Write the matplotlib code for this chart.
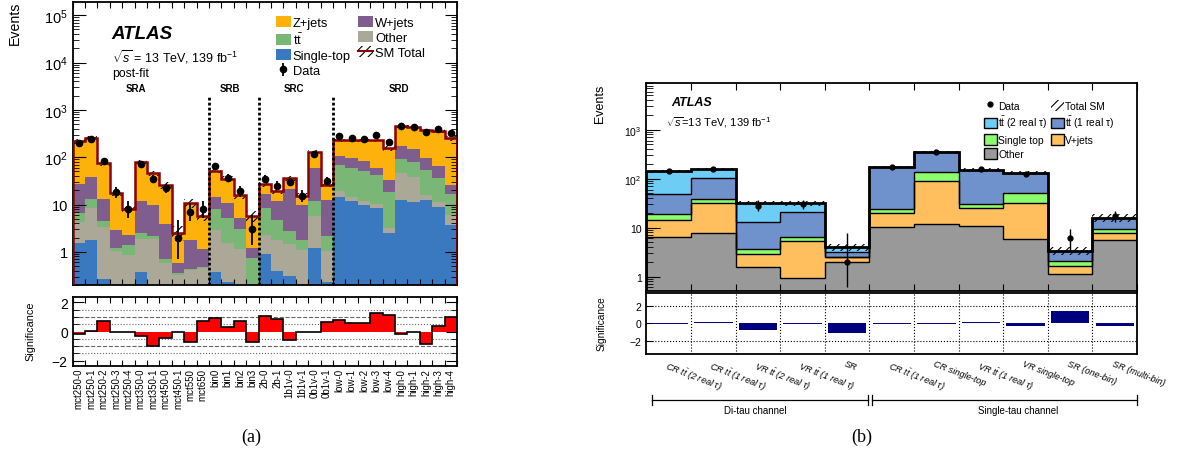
import numpy as np
import matplotlib.pyplot as plt
import matplotlib.transforms as mtransforms
from matplotlib.patches import Patch
from matplotlib.lines import Line2D
from matplotlib.ticker import LogLocator, FixedLocator, FuncFormatter, NullFormatter, MultipleLocator

plt.rcParams['font.family'] = ['Liberation Sans', 'DejaVu Sans']
plt.rcParams['mathtext.fontset'] = 'custom'
plt.rcParams['mathtext.rm'] = 'Liberation Sans'
plt.rcParams['mathtext.it'] = 'Liberation Sans:italic'
plt.rcParams['mathtext.bf'] = 'Liberation Sans:bold'
plt.rcParams['hatch.linewidth'] = 0.8
plt.rcParams['axes.linewidth'] = 1.3

# ---------------- (a) post-fit signal region yields ----------------
bins_a = ['mct250-0', 'mct250-1', 'mct250-2', 'mct250-3', 'mct250-4',
          'mct350-0', 'mct350-1', 'mct450-0', 'mct450-1', 'mct550', 'mct650',
          'bin0', 'bin1', 'bin2', 'bin3',
          '2b-0', '2b-1', '1b1v-0', '1b1v-1', '0b1v-0', '0b1v-1',
          'low-0', 'low-1', 'low-2', 'low-3', 'low-4',
          'high-0', 'high-1', 'high-2', 'high-3', 'high-4']
regions_a = ['SRA', 'SRB', 'SRC', 'SRD']
region_first_bin_a = [0, 11, 15, 21]
region_label_x_a = [5.1, 12.7, 17.85, 26.3]

single_top_a = [1.57, 1.76, 0.27, 0, 0, 0.37, 0, 0, 0, 0, 0,
                0.37, 0.23, 0, 0,
                0.89, 0.40, 0.31, 0, 1.23, 0.23,
                14.3, 11.8, 10.0, 8.5, 2.56, 12.7, 11.4, 12.3, 8.9, 3.66]
other_a = [2.73, 6.74, 3.1, 1.05, 0.88, 1.54, 1.91, 0.57, 0.32, 0.41, 0.46,
           2.5, 1.34, 1.18, 0,
           1.43, 1.42, 1.19, 1.08, 4.43, 0.8,
           4.9, 2.5, 1.8, 1.8, 0.64, 34.8, 27.0, 3.4, 2.5, 2.29]
ttbar_a = [2.35, 4.3, 1.08, 0.16, 0.5, 0.61, 0.27, 0.15, 0.03, 0.03, 0.02,
           5.08, 3.73, 1.92, 0.75,
           6.18, 2.98, 1.23, 0.74, 6.14, 1.11,
           48.4, 46.2, 39.0, 32.7, 15.3, 44.5, 41.6, 37.3, 25.8, 11.15]
wjets_a = [20.5, 25.6, 8.35, 1.75, 0.87, 9.3, 7.5, 3.25, 0.24, 1.32, 0.66,
           6.55, 5.7, 2.1, 0.46,
           8.6, 7.0, 19.1, 7.9, 48.7, 10.6,
           37.4, 36.5, 31.7, 17.5, 15.2, 78.0, 67.0, 41.0, 27.3, 9.4]
zjets_a = [191, 217, 62, 14.9, 5.7, 68, 36.9, 21.6, 1.97, 9.0, 4.6,
           37, 24.5, 10.5, 4.56,
           9.8, 7.4, 14.8, 5.5, 68.5, 13.7,
           125, 133, 147.5, 169.5, 126, 290, 293, 276, 295, 223]
sm_unc_a = [0.10, 0.10, 0.12, 0.15, 0.20, 0.10, 0.12, 0.15, 0.35, 0.20, 0.20,
            0.12, 0.12, 0.15, 0.25,
            0.12, 0.12, 0.12, 0.15, 0.10, 0.12,
            0.08, 0.08, 0.08, 0.08, 0.15, 0.08, 0.08, 0.08, 0.08, 0.10]
data_a = [204, 247, 82, 18, 8, 72, 35, 22, 2, 7, 8,
          64, 37, 19, 3,
          35, 25, 30, 15, 119, 32,
          277, 256, 247, 291, 210, 452, 436, 333, 390, 318]
signif_a = [-0.15, 0.02, 0.74, -0.02, 0.0, -0.32, -1.0, -0.46, -0.02, -0.74, 0.72,
            0.9, 0.34, 0.7, -0.74,
            1.05, 0.86, -0.57, 0.0, -0.04, 0.67,
            0.76, 0.57, 0.61, 1.26, 1.14, -0.17, 0.0, -0.86, 0.38, 1.03]

# ---------------- (b) tau channels ----------------
bins_b = [r'CR $t\bar{t}$ (2 real $\tau$)', r'CR $t\bar{t}$ (1 real $\tau$)',
          r'VR $t\bar{t}$ (2 real $\tau$)', r'VR $t\bar{t}$ (1 real $\tau$)', 'SR',
          r'CR $t\bar{t}$ (1 real $\tau$)', 'CR single-top',
          r'VR $t\bar{t}$ (1 real $\tau$)', 'VR single-top',
          'SR (one-bin)', 'SR (multi-bin)']
channels_b = ['Di-tau channel', 'Single-tau channel']
channel_span_b = [(0.12, 4.97), (5.06, 11.0)]
channel_label_x_b = [2.44, 8.34]

other_b = [6.3, 7.6, 1.55, 0.92, 2.02, 10.4, 12.1, 10.8, 5.8, 1.13, 5.55]
vjets_b = [7.9, 24.8, 1.34, 4.48, 0.45, 9.8, 77.2, 14.8, 26.6, 0.54, 2.15]
single_top_b = [4.6, 6.6, 0.76, 0.9, 0.08, 4.3, 45.7, 5.3, 17.6, 0.43, 1.6]
tt_1real_b = [29.1, 62, 9.45, 14.6, 0.67, 146.5, 215, 123, 81, 1.3, 6.7]
tt_2real_b = [94, 57, 19.3, 10.5, 0.72, 0, 0, 0, 0, 0, 0]
sm_unc_b = [0.08, 0.06, 0.10, 0.10, 0.17, 0.05, 0.05, 0.06, 0.08, 0.18, 0.20]
data_b = [145, 158, 28, 30, 2, 175, 345, 154, 125, 6, 17]
data_lo_b = [12, 12.5, 6, 5.5, 1.4, 13, 18.5, 12.4, 11, 2.5, 4]
data_hi_b = [12, 12.5, 8, 6, 5.6, 13, 18.5, 12.4, 11, 3.5, 4.5]
signif_b = [-0.1, 0.1, -0.8, -0.1, -1.15, -0.1, -0.05, 0.15, -0.35, 1.35, -0.35]

W, H = 1182, 464
fig = plt.figure(figsize=(W / 100, H / 100), dpi=100)


def rect(l, t, r, b):
    return [l / W, 1 - b / H, (r - l) / W, (b - t) / H]


def log_label(v, pos):
    if np.isclose(v, 1):
        return '1'
    if np.isclose(v, 10):
        return '10'
    return r'$10^{%d}$' % round(np.log10(v))


ax1 = fig.add_axes(rect(72.7, 3, 457, 286))
ax1r = fig.add_axes(rect(72.7, 298.3, 457, 366.7))
ax2 = fig.add_axes(rect(646.5, 84, 1137, 291.5))
ax2r = fig.add_axes(rect(646.5, 293.5, 1137, 355))

# ---------- (a) main ----------
n1 = len(bins_a)
e1 = np.arange(n1 + 1)
c1 = e1[:-1] + 0.5
colors_a = {'st': '#3a78bf', 'oth': '#aba898', 'tt': '#7ab676', 'w': '#7f5e8d', 'z': '#fdb20b'}
stack_a = [(single_top_a, colors_a['st']), (other_a, colors_a['oth']),
           (ttbar_a, colors_a['tt']), (wjets_a, colors_a['w']), (zjets_a, colors_a['z'])]
low = np.zeros(n1)
for vals, col in stack_a:
    high = low + np.asarray(vals, float)
    ax1.stairs(high, e1, baseline=np.maximum(low, 1e-3), fill=True,
               facecolor=col, edgecolor='none', lw=0, zorder=1)
    low = high
tot_a = low
ua = np.asarray(sm_unc_a)
ax1.stairs(tot_a * (1 + ua), e1, baseline=tot_a * (1 - ua), fill=True,
           facecolor='none', edgecolor='black', hatch='////', lw=0, zorder=3)
ax1.stairs(tot_a, e1, color='#8b0000', lw=1.8, zorder=4)

d = np.asarray(data_a, float)
err_lo = d - d * (1 - 1 / (9 * d) - 1 / (3 * np.sqrt(d))) ** 3
err_hi = 1 + np.sqrt(d + 0.75)
data_h = ax1.errorbar(c1, d, yerr=[err_lo, err_hi], fmt='o', color='black',
                      ms=4.5, elinewidth=1.3, capsize=0, zorder=5)

sep = mtransforms.blended_transform_factory(ax1.transData, ax1.transAxes)
for s in region_first_bin_a[1:]:
    ax1.plot([s, s], [0, 0.667], transform=sep, color='black', lw=2.0,
             ls=(0, (1, 0.8)), zorder=6)
for x, name in zip(region_label_x_a, regions_a):
    ax1.text(x, 0.697, name, transform=sep, ha='center', va='center',
             fontsize=7, fontweight='bold')

ax1.set_yscale('log')
ax1.set_ylim(0.2, 1.9e5)
ax1.set_xlim(0, n1)
ax1.yaxis.set_major_locator(FixedLocator([1, 10, 1e2, 1e3, 1e4, 1e5]))
ax1.yaxis.set_minor_locator(LogLocator(10, subs=np.arange(2, 10), numticks=20))
ax1.yaxis.set_major_formatter(FuncFormatter(log_label))
ax1.yaxis.set_minor_formatter(NullFormatter())
ax1.set_xticks(e1)
ax1.tick_params(which='both', direction='in', top=True, right=True, labelsize=10.5,
                labelbottom=False)
ax1.tick_params(axis='y', which='major', length=9)
ax1.tick_params(axis='y', which='minor', length=4.5)
ax1.tick_params(axis='x', which='major', length=4)

ax1.text(0.1015, 0.872, 'ATLAS', transform=ax1.transAxes, fontsize=13.5,
         fontweight='bold', fontstyle='italic', va='baseline')
ax1.text(0.1015, 0.809, r'$\sqrt{s}$ = 13 TeV, 139 fb$^{-1}$', transform=ax1.transAxes,
         fontsize=9, va='center')
ax1.text(0.1015, 0.749, 'post-fit', transform=ax1.transAxes, fontsize=8.8, va='center')

sm_h = (Patch(facecolor='none', edgecolor='black', hatch='////', lw=0),
        Line2D([], [], color='#8b0000', lw=1.5))
handles_a = [Patch(facecolor=colors_a['z']), Patch(facecolor=colors_a['tt']),
             Patch(facecolor=colors_a['st']), data_h,
             Patch(facecolor=colors_a['w']), Patch(facecolor=colors_a['oth']), sm_h]
labels_a = ['Z+jets', r'$\mathrm{t}\bar{\mathrm{t}}$', 'Single-top', 'Data',
            'W+jets', 'Other', 'SM Total']
ax1.legend(handles_a, labels_a, ncol=2, loc='upper left', bbox_to_anchor=(0.529, 0.950),
           frameon=False, fontsize=9.3, handlelength=1.14, handleheight=0.9,
           handletextpad=0.15, columnspacing=0.6, labelspacing=0.18,
           borderpad=0, borderaxespad=0)

# ---------- (a) significance ----------
sa = np.asarray(signif_a)
for y, ls in [(1.5, ':'), (1.0, '--'), (0.5, ':'), (-0.5, ':'), (-1.0, '--'), (-1.5, ':')]:
    ax1r.axhline(y, color='#666666', lw=0.8, ls=ls, zorder=0)
ax1r.stairs(sa, e1, baseline=0, fill=True, color='red', zorder=2)
ax1r.stairs(sa, e1, color='black', lw=1.2, zorder=3)
ax1r.set_xlim(0, n1)
ax1r.set_ylim(-2.35, 2.35)
ax1r.set_yticks([-2, 0, 2])
ax1r.yaxis.set_minor_locator(MultipleLocator(0.5))
ax1r.set_xticks(e1, [''] * (n1 + 1))
ax1r.set_xticks(c1, bins_a, minor=True)
ax1r.tick_params(axis='x', which='major', direction='in', top=True, length=4)
ax1r.tick_params(axis='x', which='minor', length=0, labelsize=7, labelrotation=90, pad=1.5)
ax1r.tick_params(axis='y', which='major', direction='in', right=True, length=8, labelsize=10)
ax1r.tick_params(axis='y', which='minor', direction='in', right=True, length=4)

fig.text(14.5 / W, 1 - 23.4 / H, 'Events', rotation=90, ha='center', va='center', fontsize=10.2)
fig.text(30 / W, 1 - 331 / H, 'Significance', rotation=90, ha='center', va='center', fontsize=7.8)

# ---------- (b) main ----------
n2 = len(bins_b)
e2 = np.arange(n2 + 1)
c2 = e2[:-1] + 0.5
colors_b = {'oth': '#999999', 'v': '#ffbf5e', 'st': '#8cfc6c', 'tt1': '#7092cc', 'tt2': '#6dcdf4'}
stack_b = [(other_b, colors_b['oth']), (vjets_b, colors_b['v']), (single_top_b, colors_b['st']),
           (tt_1real_b, colors_b['tt1']), (tt_2real_b, colors_b['tt2'])]
low = np.zeros(n2)
levels = []
for vals, col in stack_b:
    high = low + np.asarray(vals, float)
    ax2.stairs(high, e2, baseline=np.maximum(low, 1e-3), fill=True,
               facecolor=col, edgecolor='none', lw=0, zorder=1)
    levels.append(high)
    low = high
tot_b = low
for lev in levels[:-1]:
    ax2.stairs(lev, e2, color='black', lw=1.0, zorder=2)
ub = np.asarray(sm_unc_b)
ax2.stairs(tot_b * (1 + ub), e2, baseline=tot_b * (1 - ub), fill=True,
           facecolor='none', edgecolor='black', hatch='////', lw=0, zorder=3)
ax2.stairs(tot_b, e2, color='black', lw=2.0, zorder=4)
ax2.errorbar(c2, data_b, yerr=[data_lo_b, data_hi_b], fmt='o', color='black',
             ms=3.5, elinewidth=1.0, capsize=0, zorder=5)

ax2.set_yscale('log')
ax2.set_ylim(0.52, 9000)
ax2.set_xlim(0, n2)
ax2.yaxis.set_major_locator(FixedLocator([1, 10, 1e2, 1e3]))
ax2.yaxis.set_minor_locator(LogLocator(10, subs=np.arange(2, 10), numticks=20))
ax2.yaxis.set_major_formatter(FuncFormatter(log_label))
ax2.yaxis.set_minor_formatter(NullFormatter())
ax2.set_xticks(e2)
ax2.tick_params(which='both', direction='in', top=True, labelsize=7.5, labelbottom=False)
ax2.tick_params(axis='y', which='major', length=10)
ax2.tick_params(axis='y', which='minor', length=5)
ax2.tick_params(axis='x', which='major', length=5)

ax2.text(0.051, 0.908, 'ATLAS', transform=ax2.transAxes, fontsize=9,
         fontweight='bold', fontstyle='italic', va='center')
ax2.text(0.04, 0.812, r'$\sqrt{s}$=13 TeV, 139 fb$^{-1}$', transform=ax2.transAxes,
         fontsize=8, va='center')

tt_lab = r'$\mathrm{t}\bar{\mathrm{t}}$'
handles_b = [Line2D([], [], marker='o', color='black', ls='none', ms=3.5),
             Patch(facecolor=colors_b['tt2'], edgecolor='black', lw=1.0),
             Patch(facecolor=colors_b['st'], edgecolor='black', lw=1.0),
             Patch(facecolor=colors_b['oth'], edgecolor='black', lw=1.0),
             Patch(facecolor='none', edgecolor='black', hatch='////', lw=0),
             Patch(facecolor=colors_b['tt1'], edgecolor='black', lw=1.0),
             Patch(facecolor=colors_b['v'], edgecolor='black', lw=1.0)]
labels_b = ['Data', tt_lab + ' (2 real τ)', 'Single top', 'Other',
            'Total SM', tt_lab + ' (1 real τ)', 'V+jets']
ax2.legend(handles_b, labels_b, ncol=2, loc='upper left', bbox_to_anchor=(0.688, 0.918),
           frameon=False, fontsize=7.4, handlelength=1.25, handleheight=1.2,
           handletextpad=0.15, columnspacing=0.3, labelspacing=0.35,
           borderpad=0, borderaxespad=0)

# ---------- (b) significance ----------
ax2r.bar(c2, signif_b, width=0.86, color='#00007f', zorder=2)
for y in (-2, 2):
    ax2r.axhline(y, color='black', lw=0.8, ls=':', zorder=1)
for x in e2[1:-1]:
    ax2r.axvline(x, color='black', lw=0.8, ls=':', zorder=1)
ax2r.set_xlim(0, n2)
ax2r.set_ylim(-3.5, 3.5)
ax2r.set_yticks([-2, 0, 2])
ax2r.set_xticks([])
ax2r.tick_params(axis='y', direction='in', length=5, labelsize=7.5)

tb = mtransforms.blended_transform_factory(ax2r.transData, ax2r.transAxes)
for x, lab in zip(c2, bins_b):
    ax2r.text(x - 0.02, -0.07, lab, transform=tb, rotation=-21, rotation_mode='anchor',
              ha='left', va='top', fontsize=6.6, fontstyle='italic')
for (x0, x1), xl, name in zip(channel_span_b, channel_label_x_b, channels_b):
    ax2r.plot([x0, x1], [-0.748, -0.748], transform=tb, color='black', lw=0.9, clip_on=False)
    for xe in (x0, x1):
        ax2r.plot([xe, xe], [-0.672, -0.824], transform=tb, color='black', lw=0.9, clip_on=False)
    ax2r.text(xl, -0.91, name, transform=tb, ha='center', va='center', fontsize=7)

fig.text(600 / W, 1 - 104 / H, 'Events', rotation=90, ha='center', va='center', fontsize=9)
fig.text(602 / W, 1 - 324 / H, 'Significance', rotation=90, ha='center', va='center', fontsize=7.3)

fig.text(251 / W, 1 - 437 / H, '(a)', ha='center', va='center', fontsize=13,
         family=['Liberation Serif', 'DejaVu Serif'])
fig.text(862 / W, 1 - 437 / H, '(b)', ha='center', va='center', fontsize=13,
         family=['Liberation Serif', 'DejaVu Serif'])

fig.savefig('out.png', dpi=100)
